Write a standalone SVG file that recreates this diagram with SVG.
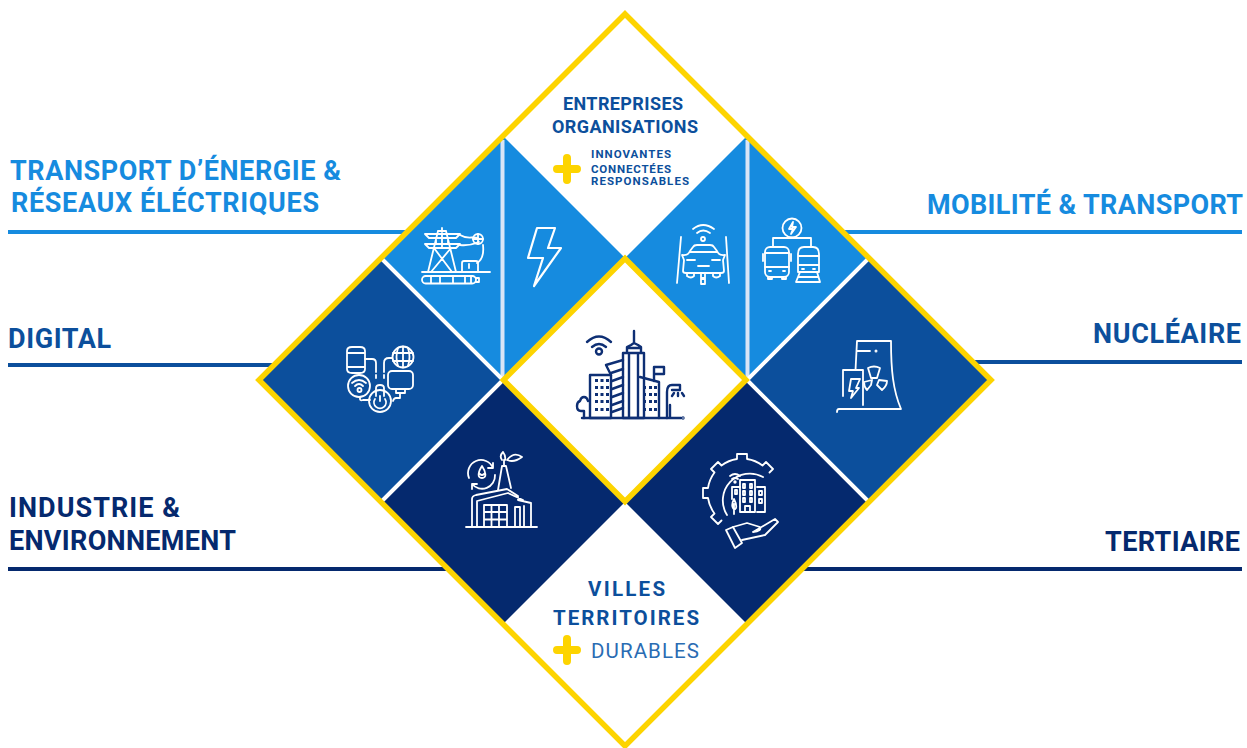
<svg xmlns="http://www.w3.org/2000/svg" width="1247" height="748" viewBox="0 0 1247 748">
<style>
text{font-family:"Roboto","Liberation Sans",sans-serif;font-weight:700}
.lb{fill:#168bdf}.mb{fill:#0c4f9c}.db{fill:#05296e}
.t{font-size:27px}.c{font-size:18px}.s{font-size:11.5px}.v{font-size:20.5px}
.i{fill:none;stroke:#fff;stroke-width:1.8;stroke-linecap:round;stroke-linejoin:round}
.k{fill:none;stroke:#0e2f74;stroke-width:2.4;stroke-linecap:round;stroke-linejoin:round}
.y{fill:none;stroke:#fdd400;stroke-width:5.500;stroke-linejoin:miter}
.p{stroke:#fdd400;stroke-width:8;stroke-linecap:round;fill:none}
.w{stroke:#fff;stroke-width:4;fill:none}
.e{stroke:#d9e5f6;stroke-width:4;fill:none}
</style>
<rect width="1247" height="748" fill="#fff"/>
<g id="connectors" stroke-width="4" fill="none">
<path d="M8 232H410" stroke="#168bdf"/>
<path d="M8 365H275" stroke="#0c4f9c"/>
<path d="M8 569H448" stroke="#05296e"/>
<path d="M842 232H1242" stroke="#168bdf"/>
<path d="M972 362H1242" stroke="#0c4f9c"/>
<path d="M802 569H1242" stroke="#05296e"/>
</g>
<g id="node-energie">
<path class="lb" d="M381 258L503 136L625 258L503 380Z"/>
<path class="e" d="M502.500 140V380"/>
<g class="i">
<path d="M438 231L428 272M446 231L456 272M442 228V231M438 231H446M425 234H460L456 238H429ZM425 244H460L456 248H429ZM436 238V244M448 238V244M434 248L452 272M451 248L431 272M442 233V247"/>
<path d="M460 235C468 240 472 236 478 238M460 245C468 246 474 244 479 242"/>
<circle cx="478" cy="239" r="5"/><path d="M473 239H483M478 234V244"/>
<path d="M483 245C484 254 482 260 477 263"/>
<path d="M462 272V263Q462 261 464 261H476Q478 261 478 263V272M469 264V268"/>
<path d="M422 272H490"/>
<rect x="422" y="276" width="54" height="7.500" rx="3.700"/>
<path d="M431 276V283M440 276V283M453 276V283M465 276V283M471 276V283M476 278H479V282H476"/>
</g>
</g>
<g id="node-eclair">
<g class="i" style="stroke-width:2.200"><path d="M537 228H555L548 248H561L534 286L543 258H528Z"/></g>
</g>
<g id="node-mobilite-voiture">
<path class="lb" d="M625 258L747 136L869 258L747 380Z"/>
<path class="e" d="M747.500 140V380"/>
<g class="i">
<path d="M693 229Q703 221 714 229M697 233Q703 228 710 233"/>
<circle cx="703" cy="239" r="2"/>
<path d="M681 237L677 283M726 237L729 283"/>
<path d="M682 255Q688 256 690 251L693 247Q694 245 697 245H710Q713 245 714 247L717 251Q719 256 725 255L723 260L724 271Q724 273 721 273H686Q683 273 683 271L684 260Z"/>
<path d="M690 252H717M687 260H695M712 260H720M698 266H709M687 273V276Q691 279 694 276V273M713 273V276Q716 279 720 276V273"/>
<rect x="701" y="273" width="4" height="5"/><rect x="701" y="279" width="4" height="5"/>
</g>
</g>
<g id="node-mobilite-transport">
<g class="i">
<circle cx="792" cy="228" r="9.500"/><path d="M793 222L789 229H793L791 234L796 227H792Z"/>
<path d="M792 237.500V238M773 238H811M773 238V247M811 238V247"/>
<rect x="765" y="247" width="24" height="30" rx="5"/>
<path d="M765 253H789M765 267H789M769 271H771M783 271H785M768 277V279H772V277M782 277V279H786V277M763 254V261M791 254V261"/>
<path d="M798 254Q798 247 804 247H813Q819 247 819 254V272H798ZM798 256H819M798 265H819M802 269H804M813 269H815M800 272L796 282H820L817 272M799 277H818"/>
</g>
</g>
<g id="node-digital">
<path class="mb" d="M259 379L381 258L503 380L381 502Z"/>
<g class="i">
<path d="M347 351Q347 347 352 347H360Q365 347 365 351V369Q365 373 360 373H352Q347 373 347 369ZM347 353H365M347 367H365"/>
<path d="M365 359H372Q376 359 376 363V372M376 375V378M384 375V378"/>
<path d="M384 372V363Q384 358 389 358H392"/>
<circle cx="403" cy="357" r="10.500"/><path d="M393 353H413M393 361H413M403 346.500V367.500M398 348Q395 357 398 366M408 348Q411 357 408 366"/>
<rect x="388" y="371" width="25" height="18" rx="4"/><path d="M396 389V393H405V389M400 393V398H396Q394 398 393 401"/>
<circle cx="359" cy="386" r="11"/><path d="M352 383Q359 377 366 383M355 386Q359 382 363 386"/><circle cx="359.500" cy="390" r="2"/><path d="M360 397V399Q360 401 363 400H370"/>
<circle cx="380" cy="401" r="11"/><path d="M376 396V388Q376 385 380 385Q384 385 384 388V396M375 399A6 6 0 1 0 385 399M380 396V401"/>
</g>
</g>
<g id="node-industrie">
<path class="db" d="M381 502L503 380L625 502L503 624Z"/>
<g class="i">
<path d="M469 478A13 13 0 0 1 493 468M493 463V468H488"/>
<path d="M495 475A13 13 0 0 1 472 484M472 489V484H477"/>
<path d="M482 466C478 472 477 478 482 478C487 478 486 472 482 466ZM480 474Q482 476 484 474"/>
<path d="M498 490L502 466H506L511 488M504 466V460M502 460Q499 456 503 452Q506 456 505 460M507 460Q514 451 522 457Q514 463 507 460Z"/>
<path d="M466 527H537M472 527V499Q472 496 476 495L507 489L518 496V500L531 503V527M477 527V501L508 493L523 500M524 506V527"/>
<path d="M484 505H507V527H484ZM491.500 505V527M499 505V527M484 512H507M484 519.500H507M515 507H520V527H515Z"/>
</g>
</g>
<g id="node-tertiaire">
<path class="db" d="M625 502L747 380L869 502L747 624Z"/>
<g class="i">
<path d="M721.500 520.500L718 524L711 517L714.500 513.500A34 34 0 0 1 708 498L703 498L703 488L708 488A34 34 0 0 1 714.500 472.500L711 469L718 462L721.500 465.500A34 34 0 0 1 737 459L737 454L747 454L747 459A34 34 0 0 1 762.500 465.500L766 462L773 469L769.500 472.500"/>
<path d="M727 515A27 27 0 0 1 763 477"/>
<path d="M730 476Q735 472 740 476M732 479Q735 477 738 479"/><circle cx="735" cy="482" r=".8"/>
<rect x="740" y="480" width="15" height="32"/><path d="M743 484H745V488H743ZM750 484H752V488H750ZM743 491H745V495H743ZM750 491H752V495H750ZM743 498H745V502H743ZM750 498H752V502H750ZM745 512V506H750V512"/>
<path d="M740 487H732V499M757 487H765V512H757M759 491H762V495H759ZM759 499H762V503H759ZM735 490H737V494H735Z"/>
<path d="M734 499Q731 505 733 508Q734 511 736 508Q737 505 734 499ZM734 514V504"/>
<path d="M733 527L747 523L760 527Q762 531 753 532M753 532L775 519L778 522L765 535L742 540"/>
<path d="M726 530L733 527L742 543L735 548Z"/>
</g>
</g>
<g id="node-nucleaire">
<path class="mb" d="M747 380L869 258L990 380L869 502Z"/>
<g class="i">
<path d="M855.500 370L857 341H891C891 370 893 390 901 409H839Q837 409 837 412"/>
<path d="M857 351H870"/><circle cx="876" cy="351" r=".6"/>
<path d="M843 396V370H863V405"/>
<path d="M851 379H860L856 388H859L851 398L853 391H849Z"/>
<path d="M871 378L868 368Q874 365 880 368L877 378ZM872 380L864 382Q864 387 867 390L871 385ZM879 380L887 381Q887 386 882 390L877 385Z"/>
</g>
</g>
<g id="node-centre">
<g class="k">
<path d="M587 342Q599 331 611 342M592 347Q599 341 606 347"/><circle cx="599" cy="351.500" r="3"/>
<path d="M582 418H681"/><circle cx="683" cy="418" r=".5"/>
<rect x="590" y="375" width="21" height="43"/>
<path d="M606 365L623 360M606 365L611 375M611 373L623 369M612 381L623 377M612 389L623 385M612 397L623 393M612 405L623 401M612 412L623 408"/>
<path d="M623 353H644V418H623ZM629 353V418M638 353V418M627 353V347L631 345L634 343V331M634 343L638 345L641 347V353M627 348H641"/>
<path d="M640 377L659 382V418"/>
<path d="M654 381V367H664V374H655"/>
<path d="M667 418V392Q667 385 672 385H680V390H672M670 417V405"/>
<path d="M674 393L672 396M678 393V396M682 393L684 396"/>
<path d="M584 418V411H581Q577 411 577 406Q577 402 580 401Q581 397 584 397Q587 397 588 401"/>
</g>
<g fill="#0e2f74">
<path d="M595 379h3v3h-3zM600.500 379h3v3h-3zM606 379h3v3h-3zM595 386h3v3h-3zM600.500 386h3v3h-3zM606 386h3v3h-3zM595 393h3v3h-3zM600.500 393h3v3h-3zM606 393h3v3h-3zM595 400h3v3h-3zM600.500 400h3v3h-3zM606 400h3v3h-3zM595 408h3v3h-3zM600.500 408h3v3h-3zM606 408h3v3h-3z"/>
<path d="M643 386h3v3h-3zM649 386h3v3h-3zM654 386h3v3h-3zM643 393h3v3h-3zM649 393h3v3h-3zM654 393h3v3h-3zM643 400h3v3h-3zM649 400h3v3h-3zM654 400h3v3h-3zM643 408h3v3h-3zM649 408h3v3h-3zM654 408h3v3h-3z"/>
</g>
</g>
<g id="dividers">
<path class="w" d="M381 258L503 380L381 502M869 258L747 380L869 502"/>
<path class="y" d="M625 14L991 380L625 746L259 380Z"/>
<path class="y" d="M625 258.500L746 380L625 501.500L503.500 380Z"/>
</g>
<g id="label-entreprises">
<text class="c mb" x="563" y="110" textLength="120">ENTREPRISES</text>
<text class="c mb" x="552" y="132.500" textLength="146">ORGANISATIONS</text>
<path class="p" d="M567 158V180M557 169H577"/>
<text class="s mb" x="591" y="158" textLength="80">INNOVANTES</text>
<text class="s mb" x="591" y="173" textLength="80">CONNECTÉES</text>
<text class="s mb" x="591" y="185" textLength="98">RESPONSABLES</text>
</g>
<g id="label-villes">
<text class="v mb" x="588" y="596" textLength="77">VILLES</text>
<text class="v mb" x="553" y="624.500" textLength="146">TERRITOIRES</text>
<path class="p" d="M567 639V661M557 650H577"/>
<text class="v" x="591" y="658" textLength="108" style="font-weight:400;fill:#2a6cb3">DURABLES</text>
</g>
<g id="label-transport-energie">
<text class="t lb" x="10" y="180" textLength="331">TRANSPORT D’ÉNERGIE &amp;</text>
<text class="t lb" x="11" y="212" textLength="308">RÉSEAUX ÉLÉCTRIQUES</text>
</g>
<g id="label-digital"><text class="t mb" x="8" y="347.500" textLength="103">DIGITAL</text></g>
<g id="label-industrie">
<text class="t db" x="9" y="517" textLength="171">INDUSTRIE &amp;</text>
<text class="t db" x="9" y="550" textLength="227">ENVIRONNEMENT</text>
</g>
<g id="label-mobilite"><text class="t lb" x="927" y="214" textLength="316">MOBILITÉ &amp; TRANSPORT</text></g>
<g id="label-nucleaire"><text class="t mb" x="1093" y="343" textLength="148">NUCLÉAIRE</text></g>
<g id="label-tertiaire"><text class="t db" x="1105" y="551" textLength="135">TERTIAIRE</text></g>
</svg>
